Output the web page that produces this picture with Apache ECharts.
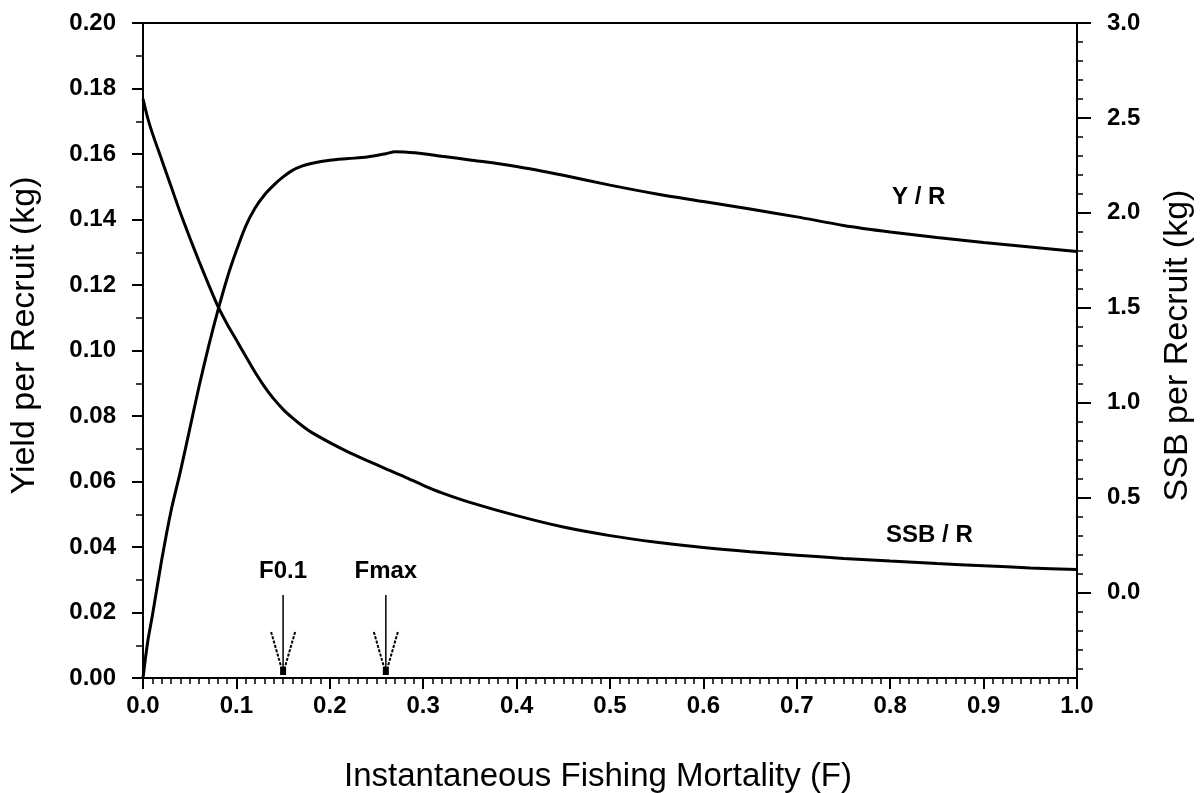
<!DOCTYPE html>
<html lang="en">
<head>
    <meta charset="UTF-8">
    <title>Yield and SSB per Recruit</title>
    <script type="text/javascript" src="https://cdn.jsdelivr.net/npm/echarts@6/dist/echarts.min.js"></script>
    <style>
        html, body { margin: 0; padding: 0; background: #fff; }
        #chart { width: 1201px; height: 793px; }
    </style>
</head>
<body>
<div id="chart"></div>
<script type="text/javascript">
    // fishing mortality grid (F)
    var fValues = [0, 0.005, 0.01, 0.02, 0.03, 0.04, 0.05, 0.06, 0.07, 0.08, 0.09, 0.1, 0.11, 0.12, 0.13, 0.14,
        0.15, 0.16, 0.17, 0.18, 0.2, 0.22, 0.24, 0.26, 0.27, 0.28, 0.3, 0.32, 0.35, 0.4, 0.45, 0.5,
        0.55, 0.6, 0.65, 0.7, 0.75, 0.8, 0.85, 0.9, 0.95, 1.0];
    // yield per recruit (kg), left axis
    var yieldPerRecruit = [0, 0.011, 0.019, 0.036, 0.051, 0.063, 0.076, 0.089, 0.101, 0.112, 0.122, 0.1305, 0.138, 0.1435, 0.1475, 0.1505,
        0.153, 0.155, 0.1563, 0.1571, 0.1581, 0.1586, 0.1591, 0.1601, 0.1607, 0.1606, 0.1601, 0.1593, 0.1582, 0.1562, 0.1535, 0.1505,
        0.1478, 0.1455, 0.1432, 0.1408, 0.1382, 0.1362, 0.1345, 0.1330, 0.1316, 0.1302];
    // spawning stock biomass per recruit (kg), right axis
    var ssbPerRecruit = [2.60, 2.50, 2.42, 2.28, 2.14, 2.00, 1.87, 1.745, 1.625, 1.51, 1.415, 1.33, 1.245, 1.16, 1.085, 1.02,
        0.965, 0.92, 0.88, 0.845, 0.79, 0.74, 0.695, 0.652, 0.63, 0.61, 0.565, 0.525, 0.475, 0.405, 0.345, 0.30,
        0.265, 0.237, 0.215, 0.197, 0.180, 0.166, 0.153, 0.141, 0.130, 0.121];

    // reference points
    var refNames = ['F0.1', 'Fmax'];
    var refF = [0.15, 0.26];

    // curve labels, placed at [F, left-axis value]
    var curveLabels = ['Y / R', 'SSB / R'];
    var curveLabelPos = [[0.8305, 0.1469], [0.842, 0.0437]];

    // right axis ticks
    var rightLabels = [0, 0.5, 1.0, 1.5, 2.0, 2.5, 3.0];
    var rightMinor = [-0.4, -0.3, -0.2, -0.1, 0.1, 0.2, 0.3, 0.4, 0.6, 0.7, 0.8, 0.9, 1.1, 1.2, 1.3, 1.4,
        1.6, 1.7, 1.8, 1.9, 2.1, 2.2, 2.3, 2.4, 2.6, 2.7, 2.8, 2.9];

    var tickFont = { color: '#000', fontFamily: 'Liberation Sans', fontWeight: 'bold', fontSize: 24 };
    var yNameFont = { color: '#000', fontFamily: 'Liberation Sans', fontSize: 34 };

    var yieldData = fValues.map(function (f, i) { return [f, yieldPerRecruit[i]]; });
    var ssbData = fValues.map(function (f, i) { return [f, ssbPerRecruit[i]]; });

    var myChart = echarts.init(document.getElementById('chart'));
    var option = {
        animation: false,
        backgroundColor: '#fff',
        grid: {
            left: 143, right: 124, top: 23, bottom: 115,
            outerBoundsMode: 'none', containLabel: false,
            show: true, borderColor: '#000', borderWidth: 2, backgroundColor: 'transparent'
        },
        xAxis: {
            type: 'value', min: 0, max: 1, interval: 0.1,
            name: 'Instantaneous Fishing Mortality (F)',
            nameLocation: 'middle', nameGap: 82,
            nameTextStyle: { color: '#000', fontFamily: 'Liberation Sans', fontSize: 33, padding: [0, 24, 0, 0] },
            axisLine: { lineStyle: { color: '#000', width: 2 } },
            axisTick: { length: 11, lineStyle: { color: '#000', width: 2 } },
            minorTick: { show: true, splitNumber: 10, length: 6, lineStyle: { color: '#000', width: 1.5 } },
            axisLabel: Object.assign({ margin: 16, formatter: function (v) { return v.toFixed(1); } }, tickFont),
            splitLine: { show: false }
        },
        yAxis: [{
            type: 'value', min: 0, max: 0.2, interval: 0.02, position: 'left',
            name: 'Yield per Recruit (kg)',
            nameLocation: 'middle', nameGap: 101,
            nameTextStyle: Object.assign({ padding: [0, 0, 0, 30] }, yNameFont),
            axisLine: { show: true, lineStyle: { color: '#000', width: 2 } },
            axisTick: { length: 11, lineStyle: { color: '#000', width: 2 } },
            minorTick: { show: true, splitNumber: 2, length: 7, lineStyle: { color: '#000', width: 1.5 } },
            axisLabel: Object.assign({ margin: 27, formatter: function (v) { return v.toFixed(2); } }, tickFont),
            splitLine: { show: false }
        }, {
            type: 'value', min: -0.45, max: 3.0, position: 'right',
            name: 'SSB per Recruit (kg)',
            nameLocation: 'middle', nameGap: 84,
            nameTextStyle: Object.assign({ padding: [0, 0, 0, 10] }, yNameFont),
            axisLine: { show: true, lineStyle: { color: '#000', width: 2 } },
            axisTick: { customValues: rightLabels, length: 14, lineStyle: { color: '#000', width: 2 } },
            axisLabel: Object.assign({
                customValues: rightLabels, margin: 30,
                formatter: function (v) { return v.toFixed(1); }
            }, tickFont),
            splitLine: { show: false }
        }, {
            type: 'value', min: -0.45, max: 3.0, position: 'right',
            axisLine: { show: false },
            axisTick: { customValues: rightMinor, length: 6, lineStyle: { color: '#000', width: 1.5 } },
            axisLabel: { show: false },
            splitLine: { show: false }
        }],
        series: [{
            name: 'Y / R',
            type: 'line',
            yAxisIndex: 0,
            data: yieldData,
            smooth: 0.3,
            symbol: 'none',
            lineStyle: { color: '#000', width: 3 },
            z: 3
        }, {
            name: 'SSB / R',
            type: 'line',
            yAxisIndex: 1,
            data: ssbData,
            smooth: 0.3,
            symbol: 'none',
            lineStyle: { color: '#000', width: 3 },
            z: 3
        }, {
            name: 'reference points',
            type: 'custom',
            yAxisIndex: 0,
            data: refF.map(function (f, i) { return [f, refNames[i]]; }),
            renderItem: function (params, api) {
                var p = api.coord([api.value(0), 0]);
                var x = p[0], y = p[1];
                var arm = { stroke: '#000', lineWidth: 2, lineDash: [3, 1.5] };
                return {
                    type: 'group',
                    children: [
                        { type: 'line', shape: { x1: x, y1: y - 83, x2: x, y2: y - 4 }, style: { stroke: '#000', lineWidth: 1.5 } },
                        { type: 'line', shape: { x1: x - 12, y1: y - 46, x2: x - 1, y2: y - 8 }, style: arm },
                        { type: 'line', shape: { x1: x + 12, y1: y - 46, x2: x + 1, y2: y - 8 }, style: arm },
                        { type: 'rect', shape: { x: x - 3, y: y - 11, width: 6, height: 8 }, style: { fill: '#000' } },
                        {
                            type: 'text', x: x, y: y - 107,
                            style: {
                                text: refNames[params.dataIndex], fill: '#000',
                                font: 'bold 24px "Liberation Sans"', align: 'center', verticalAlign: 'middle'
                            }
                        }
                    ]
                };
            },
            z: 4
        }, {
            name: 'curve labels',
            type: 'custom',
            yAxisIndex: 0,
            data: curveLabelPos,
            renderItem: function (params, api) {
                var p = api.coord([api.value(0), api.value(1)]);
                return {
                    type: 'text', x: p[0], y: p[1],
                    style: {
                        text: curveLabels[params.dataIndex], fill: '#000',
                        font: 'bold 24px "Liberation Sans"', align: 'center', verticalAlign: 'middle'
                    }
                };
            },
            z: 4
        }]
    };
    myChart.setOption(option);
</script>
</body>
</html>
